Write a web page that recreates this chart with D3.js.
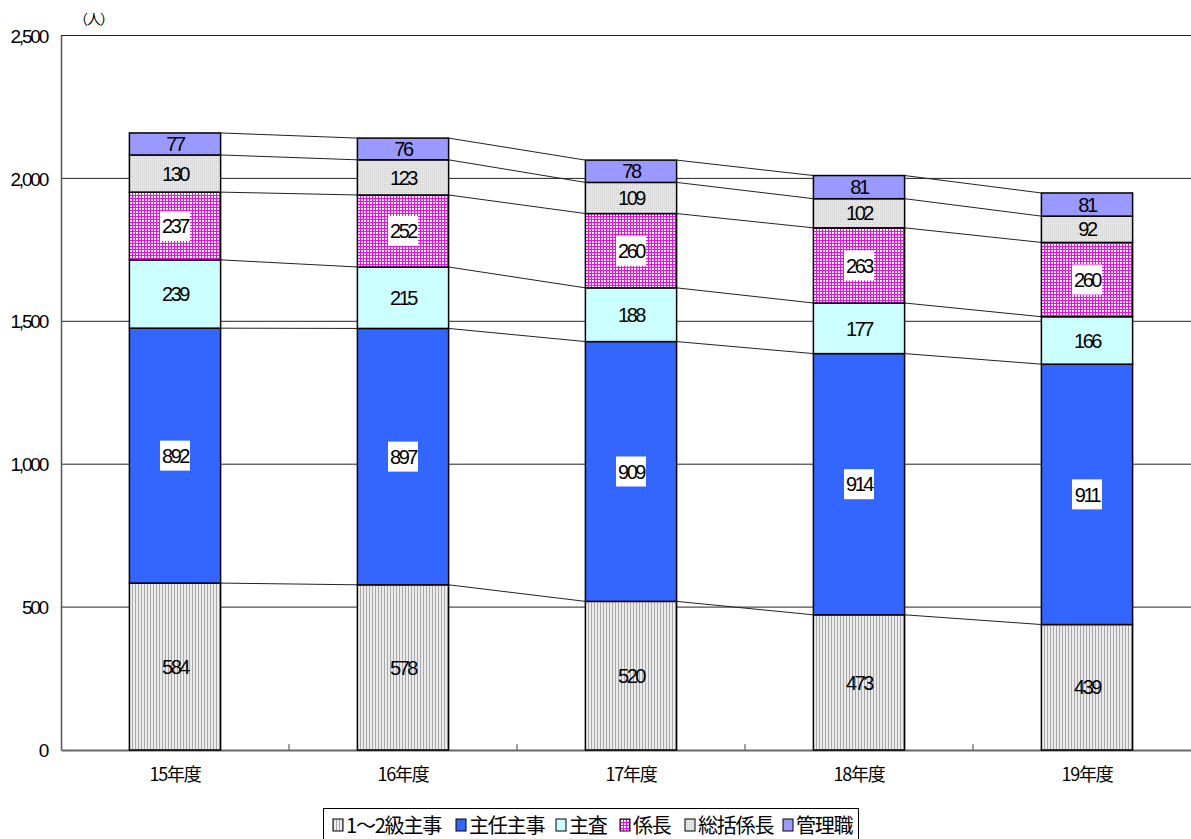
<!DOCTYPE html>
<html>
<head>
<meta charset="utf-8">
<script src="https://cdn.jsdelivr.net/npm/d3@7"></script>
<style>
  body { margin: 0; background: #fff; }
  svg { display: block; }
  text { font-family: "Liberation Sans", Arial, sans-serif; fill: #000; }
  .jp { font-family: "Noto Sans CJK JP", sans-serif; }
</style>
</head>
<body>
<div id="chart"></div>
<script>
const years = ["15年度", "16年度", "17年度", "18年度", "19年度"];
const seriesNames = ["1～2級主事", "主任主事", "主査", "係長", "総括係長", "管理職"];
const shuji = [584, 578, 520, 473, 439];
const shuninShuji = [892, 897, 909, 914, 911];
const shusa = [239, 215, 188, 177, 166];
const kakaricho = [237, 252, 260, 263, 260];
const sokatsu = [130, 123, 109, 102, 92];
const kanrishoku = [77, 76, 78, 81, 81];
const yTicks = [0, 500, 1000, 1500, 2000, 2500];

const seriesValues = [shuji, shuninShuji, shusa, kakaricho, sokatsu, kanrishoku];
const fills = ["url(#pVert)", "#3366FF", "#CCFFFF", "url(#pGrid)", "url(#pDots)", "#9999FF"];
const boxed = [false, true, false, true, false, false];

const W = 1191, H = 839;
const margin = { top: 35.5, right: -10, bottom: 89, left: 61 };

const rows = years.map((y, i) => {
  const r = { year: y };
  seriesNames.forEach((s, k) => (r[s] = seriesValues[k][i]));
  return r;
});
const stacked = d3.stack().keys(seriesNames)(rows);

const svg = d3.select("#chart").append("svg").attr("width", W).attr("height", H);

// patterns
const defs = svg.append("defs");
const pv = defs.append("pattern").attr("id", "pVert").attr("patternUnits", "userSpaceOnUse")
  .attr("width", 3).attr("height", 3);
pv.append("rect").attr("width", 3).attr("height", 3).attr("fill", "#EBEBEB");
pv.append("rect").attr("width", 1).attr("height", 3).attr("fill", "#A8A8A8");

const pg = defs.append("pattern").attr("id", "pGrid").attr("patternUnits", "userSpaceOnUse")
  .attr("width", 3).attr("height", 3);
pg.append("rect").attr("width", 3).attr("height", 3).attr("fill", "#FF00FF");
pg.append("rect").attr("x", 1).attr("y", 1).attr("width", 2).attr("height", 2).attr("fill", "#FFFFFF");

const pd = defs.append("pattern").attr("id", "pDots").attr("patternUnits", "userSpaceOnUse")
  .attr("width", 2).attr("height", 2);
pd.append("rect").attr("width", 2).attr("height", 2).attr("fill", "#E6E6E6");
pd.append("rect").attr("width", 1).attr("height", 1).attr("fill", "#D2D2D2");

const x = d3.scaleBand().domain(years).range([margin.left, W - margin.right]);
const y = d3.scaleLinear().domain([0, 2500]).range([H - margin.bottom, margin.top]);
const bw = x.bandwidth() * 0.4;
const bx = (d) => x(d) + (x.bandwidth() - bw) / 2;

// gridlines
svg.append("g")
  .selectAll("line")
  .data(yTicks.filter((t) => t > 0))
  .join("line")
  .attr("x1", margin.left)
  .attr("x2", W)
  .attr("y1", (d) => y(d))
  .attr("y2", (d) => y(d))
  .attr("stroke", "#222")
  .attr("stroke-width", 1);

// y axis
const yAxis = svg.append("g")
  .attr("transform", `translate(${margin.left},0)`)
  .call(d3.axisLeft(y).tickValues(yTicks).tickSize(0).tickPadding(14).tickFormat(d3.format(",")));
yAxis.select(".domain").attr("stroke", "#555").attr("stroke-width", 1.5);
yAxis.selectAll("text")
  .style("font-size", "19px")
  .style("letter-spacing", "-2.2px")
  .style("font-family", "'Liberation Sans', Arial, sans-serif")
  .attr("dy", "0.35em");

// x axis
const xAxis = svg.append("g")
  .attr("transform", `translate(0,${y(0)})`)
  .call(d3.axisBottom(x).tickSize(0).tickPadding(18));
xAxis.select(".domain").attr("stroke", "#666").attr("stroke-width", 2);
xAxis.selectAll("text")
  .attr("class", "jp")
  .style("font-size", "18px")
  .style("letter-spacing", "-1.2px")
  .style("font-family", "'Noto Sans CJK JP', sans-serif");
svg.append("g")
  .selectAll("line")
  .data(years.slice(1))
  .join("line")
  .attr("x1", (d) => x(d))
  .attr("x2", (d) => x(d))
  .attr("y1", y(0))
  .attr("y2", y(0) - 6)
  .attr("stroke", "#444");

// series lines between bars
const lineG = svg.append("g");
stacked.forEach((layer) => {
  for (let i = 0; i < years.length - 1; i++) {
    lineG.append("line")
      .attr("x1", bx(years[i]) + bw)
      .attr("y1", y(layer[i][1]))
      .attr("x2", bx(years[i + 1]))
      .attr("y2", y(layer[i + 1][1]))
      .attr("stroke", "#222")
      .attr("stroke-width", 1);
  }
});

// bars
const layers = svg.append("g")
  .selectAll("g")
  .data(stacked)
  .join("g")
  .attr("fill", (d, k) => fills[k]);
layers.selectAll("rect")
  .data((d) => d)
  .join("rect")
  .attr("x", (d) => bx(d.data.year))
  .attr("y", (d) => y(d[1]))
  .attr("width", bw)
  .attr("height", (d) => y(d[0]) - y(d[1]))
  .attr("stroke", "#000")
  .attr("stroke-width", 1.5);

// value labels
stacked.forEach((layer, k) => {
  const g = svg.append("g");
  layer.forEach((d) => {
    const cx = bx(d.data.year) + bw / 2;
    const cy = (y(d[0]) + y(d[1])) / 2;
    if (boxed[k]) {
      g.append("rect")
        .attr("x", cx - 15)
        .attr("y", cy - 15)
        .attr("width", 30)
        .attr("height", 30)
        .attr("fill", "#fff");
    }
    g.append("text")
      .attr("x", cx)
      .attr("y", cy)
      .attr("dy", "0.36em")
      .attr("text-anchor", "middle")
      .style("font-size", "20px")
      .style("letter-spacing", "-2.4px")
      .text(d.data[layer.key]);
  });
});

// unit label
svg.append("text")
  .attr("class", "jp")
  .attr("x", 74)
  .attr("y", 24)
  .style("font-size", "14px")
  .style("letter-spacing", "-1px")
  .text("（人）");

// legend
const legendX = [333, 456, 556, 620, 685, 783];
const legend = svg.append("g");
legend.append("rect")
  .attr("x", 323.5)
  .attr("y", 808.5)
  .attr("width", 535)
  .attr("height", 40)
  .attr("fill", "#fff")
  .attr("stroke", "#000")
  .attr("stroke-width", 1);
const items = legend.selectAll("g.item")
  .data(seriesNames)
  .join("g")
  .attr("class", "item")
  .attr("transform", (d, i) => `translate(${legendX[i]},0)`);
items.append("rect")
  .attr("x", 0)
  .attr("y", 819)
  .attr("width", 10)
  .attr("height", 12)
  .attr("fill", (d, i) => fills[i])
  .attr("stroke", "#000")
  .attr("stroke-width", 1);
items.append("text")
  .attr("class", "jp")
  .attr("x", 13)
  .attr("y", 833)
  .style("font-size", "20px")
  .style("letter-spacing", "-1.2px")
  .text((d) => d);
</script>
</body>
</html>
